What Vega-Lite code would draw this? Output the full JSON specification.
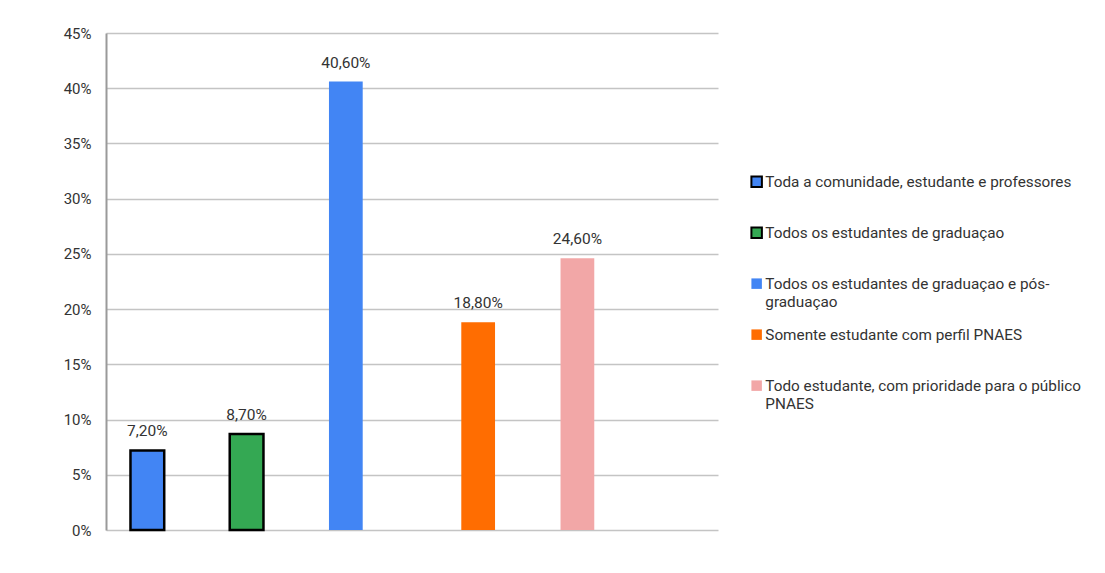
{
  "$schema": "https://vega.github.io/schema/vega-lite/v6.json",
  "width": 612,
  "height": 497,
  "autosize": "none",
  "padding": {"left": 106, "top": 33, "right": 387, "bottom": 43},
  "background": "white",
  "data": {"values": [
    {"categoria": "Toda a comunidade, estudante e professores", "valor": 0.072},
    {"categoria": "Todos os estudantes de graduaçao", "valor": 0.087},
    {"categoria": "Todos os estudantes de graduaçao e pós-graduaçao", "valor": 0.406},
    {"categoria": "Somente estudante com perfil PNAES", "valor": 0.188},
    {"categoria": "Todo estudante, com prioridade para o público PNAES", "valor": 0.246}
  ]},
  "encoding": {
    "x": {
      "field": "categoria",
      "type": "nominal",
      "scale": {
        "domain": [
          "Toda a comunidade, estudante e professores", "_s1", "_s2",
          "Todos os estudantes de graduaçao", "_s3", "_s4",
          "Todos os estudantes de graduaçao e pós-graduaçao", "_s5", "_s6", "_s7",
          "Somente estudante com perfil PNAES", "_s8", "_s9",
          "Todo estudante, com prioridade para o público PNAES", "_s10", "_s11", "_s12"
        ],
        "paddingInner": 0,
        "paddingOuter": 0.75
      },
      "axis": null
    },
    "y": {
      "field": "valor",
      "type": "quantitative",
      "scale": {"domain": [0, 0.45], "nice": false},
      "axis": {
        "title": null,
        "format": ".0%",
        "values": [0, 0.05, 0.1, 0.15, 0.2, 0.25, 0.3, 0.35, 0.4, 0.45],
        "ticks": false,
        "labelPadding": 15,
        "domainColor": "#9a9a9a",
        "domainWidth": 2,
        "gridColor": "#c4c4c4",
        "gridWidth": 1.5,
        "labelFont": "Roboto",
        "labelFontSize": 15,
        "labelColor": "#333333"
      }
    }
  },
  "layer": [
    {
      "mark": {"type": "bar", "width": {"band": 1.02}, "strokeWidth": 2.5},
      "encoding": {
        "color": {
          "field": "categoria",
          "type": "nominal",
          "scale": {
            "domain": [
              "Toda a comunidade, estudante e professores",
              "Todos os estudantes de graduaçao",
              "Todos os estudantes de graduaçao e pós-graduaçao",
              "Somente estudante com perfil PNAES",
              "Todo estudante, com prioridade para o público PNAES"
            ],
            "range": ["#4285f4", "#34a853", "#4285f4", "#ff6d01", "#f2a7a7"]
          },
          "legend": {
            "title": null,
            "orient": "none",
            "legendX": 643,
            "legendY": 141,
            "symbolType": "square",
            "symbolSize": 110,
            "symbolStrokeWidth": 2,
            "labelFont": "Roboto",
            "labelFontSize": 15.3,
            "labelColor": "#333333",
            "labelLimit": 400,
            "labelOffset": 1,
            "gridAlign": "all",
            "rowPadding": 15,
            "labelExpr": "datum.label == 'Todos os estudantes de graduaçao e pós-graduaçao' ? ['Todos os estudantes de graduaçao e pós-', 'graduaçao'] : datum.label == 'Todo estudante, com prioridade para o público PNAES' ? ['Todo estudante, com prioridade para o público', 'PNAES'] : datum.label"
          }
        },
        "stroke": {
          "field": "categoria",
          "type": "nominal",
          "scale": {
            "domain": [
              "Toda a comunidade, estudante e professores",
              "Todos os estudantes de graduaçao",
              "Todos os estudantes de graduaçao e pós-graduaçao",
              "Somente estudante com perfil PNAES",
              "Todo estudante, com prioridade para o público PNAES"
            ],
            "range": ["#000000", "#000000", "transparent", "transparent", "transparent"]
          }
        }
      }
    },
    {
      "mark": {"type": "text", "dy": -14, "baseline": "alphabetic", "fontSize": 15.5, "font": "Roboto", "color": "#333333"},
      "encoding": {
        "text": {"field": "valor", "type": "quantitative", "format": ".2%"}
      }
    }
  ],
  "config": {
    "view": {"stroke": null},
    "font": "Roboto",
    "locale": {"number": {"decimal": ",", "thousands": ".", "grouping": [3], "currency": ["R$", ""]}},
    "style": {"guide-label": {"lineHeight": 18}}
  }
}
